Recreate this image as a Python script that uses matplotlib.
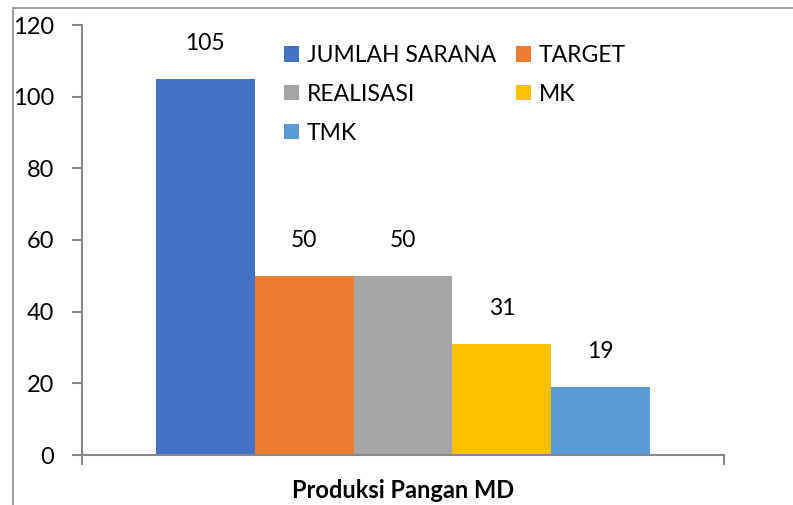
import matplotlib
matplotlib.use("Agg")
import matplotlib.pyplot as plt
from matplotlib.patches import Rectangle

# data
category = "Produksi Pangan MD"
series = ["JUMLAH SARANA", "TARGET", "REALISASI", "MK", "TMK"]
values = [105, 50, 50, 31, 19]
colors = ["#4472C4", "#ED7D31", "#A5A5A5", "#FFC000", "#5B9BD5"]

plt.rcParams['font.family'] = ['Lato', 'DejaVu Sans']

fig = plt.figure(figsize=(7.93, 5.05), dpi=100)
ax = fig.add_axes([82/793, 1 - 455/505, (724 - 82)/793, (455 - 25)/505])

# outer chart border (partly cut off at right/bottom)
fig.patches.append(Rectangle((13/793, -0.1), 1.2, 1 - 8/505 + 0.1,
                             transform=fig.transFigure, fill=False,
                             edgecolor="#A0A0A0", linewidth=1.5))

n = len(values)
w = 0.7695 / n
bars = []
for i, (s, v, c) in enumerate(zip(series, values, colors)):
    x = -0.7695 / 2 + w * (i + 0.5)
    bars.append(ax.bar(x, v, width=w, color=c, label=s))
    ax.annotate(str(v), (x, v), xytext=(0, 18), textcoords="offset points",
                ha="center", va="bottom", fontsize=16.5)

ax.set_xlim(-0.5, 0.5)
ax.set_ylim(0, 120)
ax.set_yticks(range(0, 121, 20))
ax.set_xticks([-0.5, 0.5])
ax.set_xticklabels([])
ax.set_xticks([0], [category], minor=True)
ax.tick_params(axis="x", which="minor", length=0, pad=17)
for lab in ax.get_xticklabels(minor=True):
    lab.set_fontweight("bold")
    lab.set_fontsize(17)

for side in ["top", "right"]:
    ax.spines[side].set_visible(False)
for side in ["left", "bottom"]:
    ax.spines[side].set_color("#898989")
    ax.spines[side].set_linewidth(1.5)
ax.tick_params(axis="both", which="major", color="#898989", width=1.5, length=7)
ax.tick_params(axis="y", labelsize=17, pad=13)

# row-major legend order: matplotlib fills columns first
order = [0, 2, 4, 1, 3]
ax.legend([bars[i] for i in order], [series[i] for i in order],
          ncol=2, loc="upper left", bbox_to_anchor=((284 - 82)/642, (455 - 45)/430),
          frameon=False, fontsize=16.5, handlelength=0.65, handleheight=0.65,
          handletextpad=0.35, columnspacing=0.85, labelspacing=0.78,
          borderpad=0, borderaxespad=0)

fig.savefig("out.png", dpi=100)
